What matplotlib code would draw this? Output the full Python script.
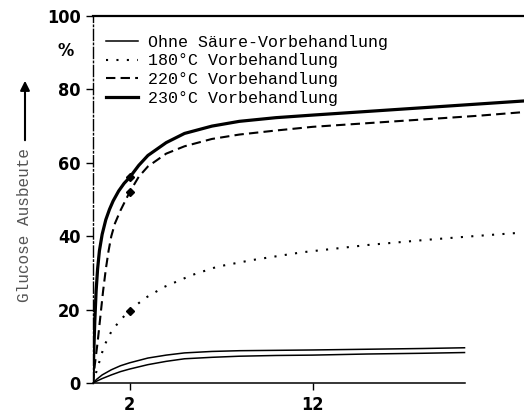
import matplotlib
matplotlib.use('Agg')
import matplotlib.pyplot as plt
from matplotlib import font_manager

# Zeit (x) und Glucose-Ausbeute in % (y)
x_ohne = [0, 0.2, 0.5, 1, 1.5, 2, 3, 4, 5, 6.5, 8, 10, 12, 15, 18, 20.3]
y_ohne_a = [0, 1.0, 2.2, 3.6, 4.7, 5.5, 6.8, 7.6, 8.2, 8.6, 8.8, 8.9, 9.0, 9.2, 9.4, 9.6]
y_ohne_b = [0, 0.5, 1.2, 2.2, 3.1, 3.8, 5.0, 5.9, 6.6, 7.0, 7.3, 7.5, 7.6, 7.9, 8.1, 8.3]

x_180 = [0, 0.6, 1.0, 1.5, 2, 2.8, 3.9, 5.4, 6.8, 8.7, 11.4, 15, 18.2, 20.5, 23.5]
y_180 = [0, 10, 14, 17.2, 19.7, 23, 26.2, 29.4, 31.7, 33.5, 35.6, 37.6, 39, 39.9, 41]

x_220 = [0, 0.1, 0.25, 0.4, 0.55, 0.7, 0.85, 1.0, 1.2, 1.5, 2, 2.5, 3, 4, 5, 6.5, 8, 10, 12, 15, 18, 21, 24]
y_220 = [0, 5, 11, 18, 25, 31, 36, 40, 43.5, 47, 52, 56.2, 59, 62.5, 64.5, 66.5, 67.7, 68.8, 69.8, 70.8, 71.8, 72.8, 74]

x_230 = [0, 0.04, 0.1, 0.17, 0.25, 0.35, 0.5, 0.7, 0.9, 1.1, 1.4, 1.7, 2, 2.5, 3, 4, 5, 6.5, 8, 10, 12, 15, 18, 21, 24]
y_230 = [0, 8, 17, 25, 31, 36, 40.5, 44.5, 47.3, 49.6, 52.3, 54.4, 56, 59.3, 62, 65.5, 68, 70, 71.3, 72.3, 73, 74, 75, 76, 77]

labels = ['Ohne Säure-Vorbehandlung', '180°C Vorbehandlung',
          '220°C Vorbehandlung', '230°C Vorbehandlung']
xticks = [2, 12]
yticks = [0, 20, 40, 60, 80, 100]

mono_font = 'Liberation Mono'
num_prop = font_manager.FontProperties(family='DejaVu Sans', stretch='condensed',
                                       weight='bold', size=13)

fig = plt.figure(figsize=(5.24, 4.17), dpi=100)
ax = fig.add_axes([93 / 524, 34 / 417, 431 / 524, 367 / 417])

l1, = ax.plot(x_ohne, y_ohne_a, color='black', lw=1.1)
ax.plot(x_ohne, y_ohne_b, color='black', lw=1.1)
l2, = ax.plot(x_180, y_180, color='black', lw=1.5, linestyle=(0, (1, 4)),
              marker='D', markersize=4, markevery=[x_180.index(2)])
l3, = ax.plot(x_220, y_220, color='black', lw=1.5, linestyle=(0, (4.5, 2.5)),
              marker='D', markersize=4, markevery=[x_220.index(2)])
l4, = ax.plot(x_230, y_230, color='black', lw=2.3,
              marker='D', markersize=4, markevery=[x_230.index(2)])

ax.set_xlim(0, 23.55)
ax.set_ylim(0, 100)
ax.set_xticks(xticks)
ax.set_yticks(yticks)
ax.tick_params(axis='both', direction='out', length=5, width=1, pad=4)
for lab in ax.get_xticklabels() + ax.get_yticklabels():
    lab.set_fontproperties(num_prop)

ax.spines['right'].set_visible(False)
ax.spines['top'].set_linewidth(1.6)
ax.spines['left'].set_linestyle((0, (8, 2, 1, 2)))
ax.spines['left'].set_linewidth(1.0)
ax.spines['bottom'].set_bounds(0, 20.3)
ax.spines['bottom'].set_linewidth(1.1)

ax.text(-0.045, 0.905, '%', transform=ax.transAxes, ha='right', va='center',
        fontproperties=num_prop)

# Achsenbeschriftung mit Pfeil
fig.text(25 / 524, 1 - 225 / 417, 'Glucose Ausbeute', rotation=90,
         ha='center', va='center', fontsize=11.5, family=mono_font, color='#555555')
ax.annotate('', xy=(25 / 524, 1 - 78 / 417), xytext=(25 / 524, 1 - 143 / 417),
            xycoords='figure fraction', textcoords='figure fraction',
            arrowprops=dict(arrowstyle='-|>', color='black', lw=1.5,
                            mutation_scale=14))

leg = ax.legend([l1, l2, l3, l4], labels, loc='upper left',
                bbox_to_anchor=(-0.005, 0.99), frameon=False,
                handlelength=1.9, handletextpad=0.6, labelspacing=0.22,
                prop={'family': mono_font, 'size': 12})
for h in leg.legend_handles:
    h.set_marker('')

fig.savefig('out.png', dpi=100)
